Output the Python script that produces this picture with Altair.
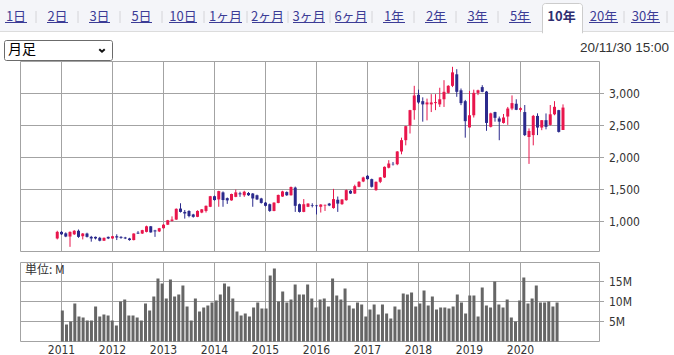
import altair as alt
import pandas as pd

# ---------------- data (monthly candles, Dec 2010 .. Nov 2020) ----------------
first_year, first_month = 2010, 12

opens = [735, 838, 815, 765, 800, 855, 770, 812, 760, 760, 745, 700,
         760, 735, 770, 760, 750, 735, 710, 825, 812, 838, 925, 860,
         845, 895, 950, 1010, 1030, 1202, 1150, 1165, 1110, 1073, 1140, 1165,
         1230, 1395, 1345, 1455, 1365, 1330, 1385, 1440, 1410, 1445, 1437, 1410,
         1360, 1295, 1270, 1165, 1290, 1390, 1460, 1410, 1530, 1270, 1150, 1230,
         1255, 1250, 1230, 1250, 1280, 1210, 1340, 1271, 1333, 1480, 1437, 1542,
         1625, 1714, 1662, 1490, 1620, 1688, 1840, 1900, 1895, 2094, 2271, 2500,
         2740, 2980, 2880, 2830, 2830, 2850, 2830, 2910, 3010, 3120, 3300, 3050,
         2880, 2470, 2660, 3010, 3100, 3030, 2480, 2710, 2610, 2540, 2640, 2765,
         2840, 2745, 2710, 2320, 2350, 2650, 2468, 2583, 2510, 2675, 2740, 2430]
highs = [855, 850, 830, 845, 865, 875, 820, 825, 775, 765, 760, 750,
         765, 775, 800, 770, 760, 745, 815, 850, 870, 935, 930, 870,
         900, 960, 1025, 1080, 1205, 1285, 1180, 1175, 1120, 1175, 1195, 1250,
         1400, 1405, 1480, 1470, 1375, 1435, 1500, 1465, 1480, 1460, 1445, 1420,
         1370, 1305, 1280, 1300, 1420, 1480, 1470, 1545, 1545, 1280, 1350, 1285,
         1285, 1260, 1270, 1265, 1290, 1510, 1390, 1350, 1500, 1490, 1575, 1630,
         1700, 1725, 1670, 1625, 1695, 1860, 1958, 1930, 2100, 2310, 2495, 2745,
         3120, 3060, 2940, 2920, 2990, 2990, 3090, 3208, 3130, 3417, 3380, 3078,
         2900, 3040, 3060, 3060, 3130, 3040, 2700, 2715, 2640, 2680, 2790, 2970,
         2910, 2785, 2820, 2455, 2665, 2690, 2583, 2688, 2820, 2880, 2745, 2830]
lows = [720, 790, 755, 604, 790, 745, 720, 750, 685, 720, 690, 695,
        725, 730, 710, 730, 725, 700, 705, 805, 805, 830, 825, 760,
        835, 890, 945, 1000, 1025, 1140, 1045, 1065, 1060, 1068, 1130, 1140,
        1225, 1325, 1230, 1230, 1275, 1325, 1380, 1385, 1385, 1400, 1230, 1335,
        1280, 1235, 1150, 1160, 1285, 1385, 1400, 1405, 1150, 1140, 1145, 1225,
        1220, 1110, 1140, 1165, 1240, 1200, 1150, 1260, 1325, 1430, 1430, 1535,
        1615, 1655, 1530, 1480, 1600, 1680, 1830, 1875, 1880, 2050, 2190, 2375,
        2590, 2840, 2560, 2580, 2710, 2740, 2790, 2790, 3000, 3100, 2948, 2818,
        2310, 2470, 2625, 2975, 3020, 2417, 2470, 2560, 2270, 2530, 2510, 2740,
        2740, 2715, 2335, 1900, 2190, 2350, 2427, 2440, 2500, 2660, 2390, 2430]
closes = [838, 800, 765, 838, 855, 760, 812, 760, 735, 735, 700, 745,
          735, 770, 750, 745, 735, 710, 812, 812, 865, 925, 830, 845,
          895, 950, 1020, 1030, 1198, 1150, 1125, 1085, 1073, 1165, 1190, 1245,
          1395, 1335, 1475, 1335, 1330, 1430, 1455, 1425, 1465, 1410, 1360, 1345,
          1290, 1245, 1165, 1295, 1415, 1470, 1410, 1540, 1245, 1150, 1270, 1280,
          1245, 1240, 1265, 1260, 1250, 1350, 1280, 1344, 1490, 1437, 1552, 1620,
          1688, 1662, 1542, 1620, 1688, 1854, 1906, 1895, 2094, 2271, 2490, 2740,
          2969, 2860, 2830, 2860, 2860, 2865, 2910, 3026, 3120, 3330, 3026, 2850,
          2568, 2660, 3010, 3050, 3026, 2540, 2690, 2620, 2560, 2625, 2765, 2850,
          2745, 2770, 2350, 2415, 2650, 2468, 2583, 2479, 2675, 2792, 2400, 2780]
volumes_m = [7.75, 4.25, 5, 9.5, 6.25, 6, 5.25, 5.25, 8.75, 6.25,
             6.75, 6.5, 5.25, 4, 10, 10.5, 6.5, 6.5, 6, 5.25,
             9.5, 7.75, 11.25, 15.75, 14.5, 10.75, 15.5, 11.25, 11.75, 14,
             8.75, 5.25, 10.75, 7.5, 8.5, 9, 9.75, 10.25, 11.75, 14.5,
             13.75, 10.75, 7.5, 6.5, 7, 6.25, 8.5, 9.75, 8.25, 8.25,
             16.5, 18.25, 10, 12.5, 9.75, 10.5, 14.25, 11.75, 11.75, 14.25,
             10.75, 8.5, 10.5, 10.75, 8.75, 15.75, 11.5, 10.5, 13.25, 9,
             8.25, 9.75, 9.25, 6.25, 8, 9.25, 6.75, 9.25, 7, 5.75,
             8.75, 8, 12, 11.75, 12.25, 8.75, 9.5, 12.75, 9, 11.25,
             8, 8.5, 8.5, 8.25, 8.75, 11.75, 9.75, 7, 11.5, 11.5,
             6.25, 13.5, 9, 8.5, 15, 9.25, 8.5, 10.5, 6, 5,
             10.25, 16, 9.5, 10.75, 14, 9.75, 9.75, 10, 8.75, 9.75]

years = [2011, 2012, 2013, 2014, 2015, 2016, 2017, 2018, 2019, 2020]
price_ticks = [1000, 1500, 2000, 2500, 3000]
price_labels = ["1,000", "1,500", "2,000", "2,500", "3,000"]
vol_ticks = [5, 10, 15]
vol_labels = ["5M", "10M", "15M"]

tab_labels = ["1日", "2日", "3日", "5日", "10日", "1ヶ月", "2ヶ月", "3ヶ月", "6ヶ月",
              "1年", "2年", "3年", "5年", "10年", "20年", "30年"]
selected_tab = "10年"
period_label = "月足"
date_label = "20/11/30 15:00"
unit_label = "単位: M"

# ---------------- layout (pixels) ----------------
W, H = 674, 355
tab_cx = [16, 57.5, 99.5, 141.5, 183, 225.5, 267.5, 309, 351, 394, 436, 477.5, 520, 561.5, 603.5, 645.5]
tab_w = [22, 21, 21, 21, 28, 33, 31, 32, 32, 22, 22, 21, 22, 0, 29, 29]
sep_x = [36, 78, 120, 162, 204, 247, 288, 330, 372, 414, 456, 498, 624, 667]

RED = "#e8164c"
NAVY = "#2b2a8c"
GRID = "#a3a3a3"
LINK = "#3c3c96"
TXT = "#333333"
NUMFONT = "DejaVu Sans Condensed"
JPFONT = "Noto Sans CJK JP"

n = len(opens)
df = pd.DataFrame({
    "t": [first_year + (first_month - 1 + i) / 12 for i in range(n)],
    "open": opens, "high": highs, "low": lows, "close": closes,
    "vol": volumes_m,
})

xs = alt.Scale(domain=[2011, 2020], range=[61.5, 520.5], nice=False, zero=False)
ps = alt.Scale(domain=[1000, 3000], range=[221.5, 93.5], nice=False, zero=False)
vs = alt.Scale(domain=[0, 15], range=[341.5, 281.5], nice=False)
ident = alt.Scale(domain=[0, W], range=[0, W], nice=False, zero=False)

one = pd.DataFrame({"a": [0]})
tabs = pd.DataFrame({"label": tab_labels, "cx": tab_cx, "w": tab_w})
tabs["x1"] = tabs["cx"] - tabs["w"] / 2
tabs["x2"] = tabs["cx"] + tabs["w"] / 2
tabs_plain = tabs[tabs["label"] != selected_tab]
tabs_sel = tabs[tabs["label"] == selected_tab]
seps = pd.DataFrame({"sx": sep_x})
yr = pd.DataFrame({"year": years, "label": [str(y) for y in years]})
pt = pd.DataFrame({"v": price_ticks, "label": price_labels})
vt = pd.DataFrame({"v": vol_ticks, "label": vol_labels})

layers = []

# tab bar
layers.append(alt.Chart(one).mark_rect(color="#f4f5f9").encode(
    x=alt.value(0), x2=alt.value(W), y=alt.value(0), y2=alt.value(31)))
layers.append(alt.Chart(one).mark_rule(color="#dcdcdc", strokeWidth=1).encode(
    x=alt.value(0), x2=alt.value(W), y=alt.value(31.5)))
layers.append(alt.Chart(one).mark_rect(fill="white", stroke="#cccccc", strokeWidth=1,
                                       cornerRadiusTopLeft=3, cornerRadiusTopRight=3).encode(
    x=alt.value(542.5), x2=alt.value(582.5), y=alt.value(3.5), y2=alt.value(33)))
layers.append(alt.Chart(one).mark_rect(color="white").encode(
    x=alt.value(543), x2=alt.value(582), y=alt.value(30), y2=alt.value(34)))
layers.append(alt.Chart(seps).mark_rule(color="#d4d4d8", strokeWidth=1).encode(
    x=alt.X("sx:Q", scale=ident, axis=None), y=alt.value(11), y2=alt.value(23)))
layers.append(alt.Chart(tabs_plain).mark_text(font=JPFONT, fontSize=13, color=LINK,
                                               align="center", baseline="alphabetic").encode(
    x=alt.X("cx:Q", scale=ident, axis=None), y=alt.value(20.5), text="label:N"))
layers.append(alt.Chart(tabs_plain).mark_rule(color=LINK, strokeWidth=1).encode(
    x=alt.X("x1:Q", scale=ident, axis=None), x2="x2:Q", y=alt.value(22.5)))
layers.append(alt.Chart(tabs_sel).mark_text(font=JPFONT, fontSize=13, fontWeight="bold",
                                             color="#2e2e70", align="center",
                                             baseline="alphabetic").encode(
    x=alt.X("cx:Q", scale=ident, axis=None), y=alt.value(20.5), text="label:N"))

# dropdown + date
layers.append(alt.Chart(one).mark_rect(fill="white", stroke="#6b6b6b", strokeWidth=1,
                                       cornerRadius=2).encode(
    x=alt.value(4.5), x2=alt.value(112.5), y=alt.value(40.5), y2=alt.value(60.5)))
layers.append(alt.Chart(one).mark_text(font=JPFONT, fontSize=14, color="#000000",
                                       align="left", baseline="middle",
                                       text=period_label).encode(
    x=alt.value(8), y=alt.value(50)))
layers.append(alt.Chart(one).mark_point(shape="M-1,-0.45L0,0.45L1,-0.45", filled=False,
                                        color="#111111", strokeWidth=2, size=30,
                                        opacity=1).encode(
    x=alt.value(102), y=alt.value(50.5)))
layers.append(alt.Chart(one).mark_text(font="Liberation Sans", fontSize=13.5, color=TXT,
                                       align="right", baseline="middle",
                                       text=date_label).encode(
    x=alt.value(669), y=alt.value(48)))

# panel frames
layers.append(alt.Chart(one).mark_rect(fill="white", stroke=GRID, strokeWidth=1).encode(
    x=alt.value(20.5), x2=alt.value(599.5), y=alt.value(61.5), y2=alt.value(251.5)))
layers.append(alt.Chart(one).mark_rect(fill="white", stroke=GRID, strokeWidth=1).encode(
    x=alt.value(20.5), x2=alt.value(599.5), y=alt.value(262.5), y2=alt.value(341.5)))

# grid lines
layers.append(alt.Chart(yr).mark_rule(color=GRID, strokeWidth=1).encode(
    x=alt.X("year:Q", scale=xs, axis=None), y=alt.value(61.5), y2=alt.value(251.5)))
layers.append(alt.Chart(yr).mark_rule(color=GRID, strokeWidth=1).encode(
    x=alt.X("year:Q", scale=xs, axis=None), y=alt.value(262.5), y2=alt.value(341.5)))
layers.append(alt.Chart(pt).mark_rule(color=GRID, strokeWidth=1).encode(
    y=alt.Y("v:Q", scale=ps, axis=None), x=alt.value(20.5), x2=alt.value(604)))
layers.append(alt.Chart(vt).mark_rule(color=GRID, strokeWidth=1).encode(
    y=alt.Y("v:Q", scale=vs, axis=None), x=alt.value(20.5), x2=alt.value(604)))

# labels
layers.append(alt.Chart(pt).mark_text(font=NUMFONT, fontSize=12, color=TXT,
                                      align="left", baseline="middle").encode(
    y=alt.Y("v:Q", scale=ps, axis=None), x=alt.value(609), text="label:N"))
layers.append(alt.Chart(vt).mark_text(font=NUMFONT, fontSize=12, color=TXT,
                                      align="left", baseline="middle").encode(
    y=alt.Y("v:Q", scale=vs, axis=None), x=alt.value(609), text="label:N"))
layers.append(alt.Chart(yr).mark_text(font=NUMFONT, fontSize=12, color=TXT,
                                      align="center", baseline="middle").encode(
    x=alt.X("year:Q", scale=xs, axis=None), y=alt.value(349.5), text="label:N"))
layers.append(alt.Chart(one).mark_text(font=JPFONT, fontSize=12, color=TXT,
                                       align="left", baseline="middle",
                                       text=unit_label).encode(
    x=alt.value(25), y=alt.value(270)))

# candles: wicks and bodies
col = alt.condition("datum.close >= datum.open", alt.value(RED), alt.value(NAVY))
layers.append(alt.Chart(df).mark_rule(strokeWidth=1).encode(
    x=alt.X("t:Q", scale=xs, axis=None),
    y=alt.Y("low:Q", scale=ps, axis=None), y2="high:Q", color=col))
layers.append(alt.Chart(df).mark_rule(strokeWidth=3).encode(
    x=alt.X("t:Q", scale=xs, axis=None),
    y=alt.Y("open:Q", scale=ps, axis=None), y2="close:Q", color=col))

# volume
layers.append(alt.Chart(df).mark_bar(size=3, color="#666666").encode(
    x=alt.X("t:Q", scale=xs, axis=None),
    y=alt.Y("vol:Q", scale=vs, axis=None, stack=None)))

chart = alt.layer(*layers).resolve_scale(x="independent", y="independent").properties(
    width=W, height=H, padding=0, background="white",
    autosize=alt.AutoSizeParams(type="none"),
).configure_view(strokeWidth=0)

chart.save("out.html", embed_options={"renderer": "svg", "actions": False})
